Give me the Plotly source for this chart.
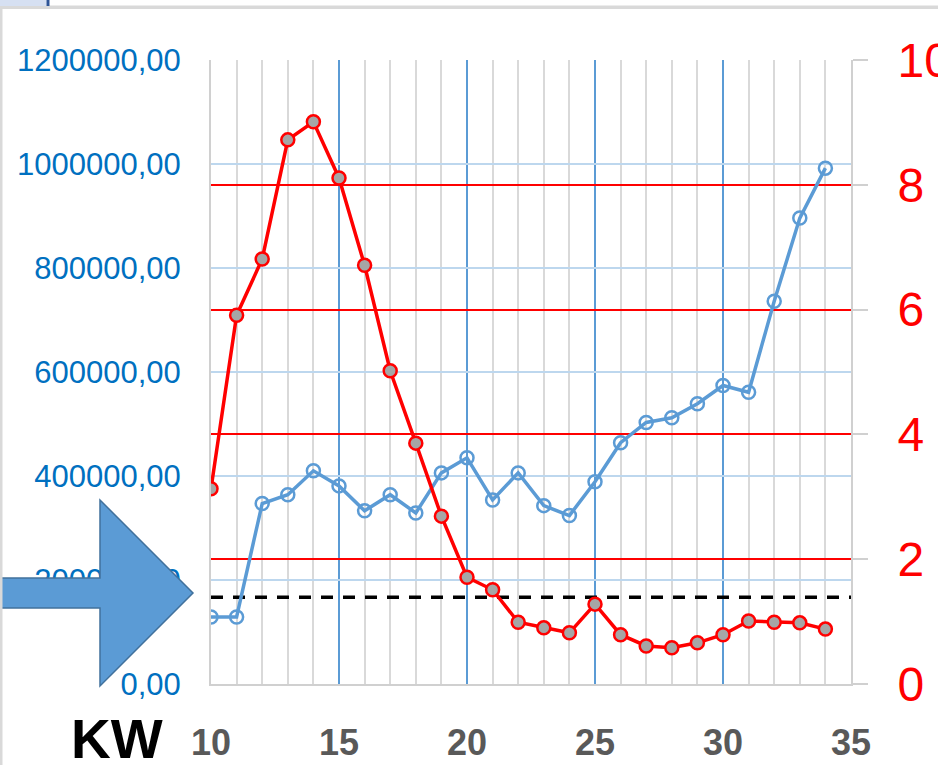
import plotly.graph_objects as go

# Data
weeks = list(range(10, 35))
blue_values = [129000, 129000, 347000, 364000, 410000, 381000, 333000, 364000, 329000,
               406000, 435000, 354000, 406000, 343000, 324000, 389000, 464000, 503000,
               512000, 539000, 574000, 561000, 736000, 896000, 992000]
red_values = [3.13, 5.91, 6.81, 8.72, 9.01, 8.11, 6.71, 5.02, 3.86, 2.69, 1.71, 1.51,
              0.99, 0.90, 0.82, 1.28, 0.79, 0.61, 0.58, 0.66, 0.79, 1.01, 0.99, 0.98, 0.88]
threshold_left = 167000
x_ticks = [10, 15, 20, 25, 30, 35]
x_minor = [v for v in range(11, 35) if v % 5]
left_ticks = [0, 200000, 400000, 600000, 800000, 1000000, 1200000]
right_ticks = [0, 2, 4, 6, 8, 10]

W, H = 938, 765
L, R, T, B = 211, 851, 60, 684


def px(x):
    return (x - L) / (R - L)


def py(y):
    return (B - y) / (B - T)


fig = go.Figure()

fig.add_trace(go.Scatter(
    x=[weeks[0], 35], y=[threshold_left, threshold_left], mode="lines",
    line=dict(color="black", width=3.5, dash="12px,10px"), yaxis="y", showlegend=False,
    hoverinfo="skip"))

fig.add_trace(go.Scatter(
    x=weeks, y=blue_values, mode="lines+markers", yaxis="y",
    line=dict(color="#5B9BD5", width=3.5),
    marker=dict(symbol="circle-open", size=13, color="#5B9BD5", line=dict(width=2.5)),
    showlegend=False))

fig.add_trace(go.Scatter(
    x=weeks, y=red_values, mode="lines+markers", yaxis="y2",
    line=dict(color="#FF0000", width=3.5),
    marker=dict(symbol="circle", size=13, color="#A6A6A6", line=dict(color="#FF0000", width=2.5)),
    showlegend=False))

arrow_pts = [(-5, 578), (100, 578), (100, 500), (193, 593), (100, 686), (100, 608), (-5, 608)]
path = "M " + " L ".join(f"{px(a):.5f},{py(b):.5f}" for a, b in arrow_pts) + " Z"

shapes = [
    dict(type="path", path=path, xref="paper", yref="paper",
         fillcolor="#5B9BD5", line=dict(color="#41719C", width=1.5), layer="above"),
    # screen frame decorations
    dict(type="rect", xref="paper", yref="paper", x0=px(0), x1=px(W), y0=py(9), y1=py(5.5),
         fillcolor="#D9D9D9", line=dict(width=0), layer="above"),
    dict(type="rect", xref="paper", yref="paper", x0=px(0), x1=px(2.5), y0=py(H), y1=py(6),
         fillcolor="#D9D9D9", line=dict(width=0), layer="above"),
    dict(type="rect", xref="paper", yref="paper", x0=px(0), x1=px(46.5), y0=py(6), y1=py(-2),
         fillcolor="#D6E0F2", line=dict(width=0), layer="above"),
    dict(type="rect", xref="paper", yref="paper", x0=px(46.5), x1=px(49.5), y0=py(6), y1=py(-2),
         fillcolor="#2F5597", line=dict(width=0), layer="above"),
]

fig.update_layout(
    template="none",
    width=W, height=H,
    margin=dict(l=L, r=W - R, t=T, b=H - B, pad=0, autoexpand=False),
    paper_bgcolor="white", plot_bgcolor="white",
    separators=", ",
    font=dict(family="Liberation Sans"),
    shapes=shapes,
    xaxis=dict(
        range=[10, 35], tickvals=x_ticks, ticktext=[str(v) for v in x_ticks],
        automargin=False,
        showgrid=True, gridcolor="#5B9BD5", gridwidth=1.5,
        minor=dict(tickvals=x_minor, showgrid=True, gridcolor="#D9D9D9", gridwidth=1.5),
        showline=True, linecolor="#D0D0D0", linewidth=2, zeroline=False,
        ticks="", ticklabelstandoff=26,
        tickfont=dict(size=36, color="#595959", family="Liberation Sans", weight="bold"),
    ),
    yaxis=dict(
        range=[0, 1200000], tickvals=left_ticks, tickformat=".2f",
        automargin=False,
        showgrid=True, gridcolor="#BDD7EE", gridwidth=1.5,
        showline=True, linecolor="#D0D0D0", linewidth=2, zeroline=False,
        ticks="", ticklabelstandoff=22,
        tickfont=dict(size=31, color="#0070C0", family="Liberation Sans"),
    ),
    yaxis2=dict(
        range=[0, 10], tickvals=right_ticks, overlaying="y", side="right",
        automargin=False,
        showgrid=True, gridcolor="#FF0000", gridwidth=1.8,
        showline=True, linecolor="#D0D0D0", linewidth=2, zeroline=False,
        ticks="outside", ticklen=15, tickcolor="#D0D0D0", tickwidth=1.5,
        ticklabelstandoff=20,
        tickfont=dict(size=48, color="#FF0000", family="Liberation Sans"),
    ),
    annotations=[dict(
        text="<b>KW</b>", xref="paper", yref="paper", x=px(116.5), y=py(739),
        xanchor="center", yanchor="middle", showarrow=False,
        font=dict(size=55, color="black", family="Liberation Sans"))],
)

fig.write_html(
    "out.html",
    config={"displayModeBar": False},
    post_script="document.body.style.margin='0';document.body.style.overflow='hidden';",
)
